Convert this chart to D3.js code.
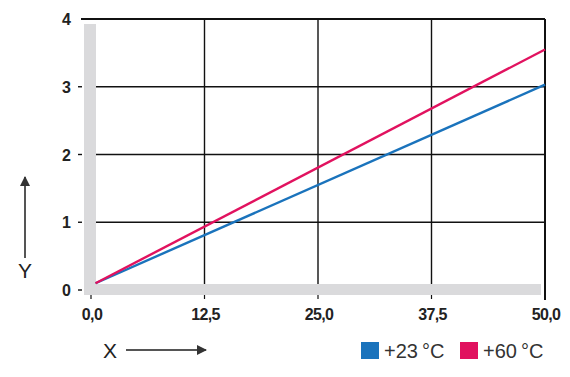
<!DOCTYPE html>
<html>
<head>
<meta charset="utf-8">
<script src="https://cdn.jsdelivr.net/npm/d3@7"></script>
<style>
body { margin: 0; background: #fff; }
text { font-family: "Liberation Sans", Arial, sans-serif; }
</style>
</head>
<body>
<svg width="570" height="377"></svg>
<script>
// data
let xTicks = [0, 12.5, 25, 37.5, 50];
let yTicks = [0, 1, 2, 3, 4];
let seriesNames = ['+23\u2009\u00b0C', '+60\u2009\u00b0C'];
let seriesColors = ['#1a73bc', '#e1125f'];
let xVals = [0.5, 50];
let blueVals = [0.1, 3.03];
let pinkVals = [0.1, 3.55];

let svg = d3.select('svg');
let x = d3.scaleLinear().domain([0, 50]).range([91, 545]);
let y = d3.scaleLinear().domain([0, 4]).range([290, 19]);

// grey axis bands
svg.append('rect').attr('x', 84).attr('y', 24).attr('width', 12).attr('height', 271).style('fill', '#dadadc');
svg.append('rect').attr('x', 84).attr('y', 284).attr('width', 457).attr('height', 11).style('fill', '#dadadc');

// horizontal grid
svg.selectAll('line.hgrid').data(yTicks.filter(d => d > 0)).join('line')
	.attr('class', 'hgrid')
	.attr('x1', d => d == 4 ? 81 : 96).attr('x2', x(50))
	.attr('y1', d => y(d)).attr('y2', d => y(d))
	.style('stroke', '#111').style('stroke-width', d => d == 4 ? 2.2 : 1.4);

// vertical grid
svg.selectAll('line.vgrid').data(xTicks.filter(d => d > 0)).join('line')
	.attr('class', 'vgrid')
	.attr('x1', d => x(d)).attr('x2', d => x(d))
	.attr('y1', y(4)).attr('y2', d => d == 50 ? 300 : 284)
	.style('stroke', '#111').style('stroke-width', d => d == 50 ? 2 : 1.4);
// little ticks below the band
svg.selectAll('line.xtick').data(xTicks.filter(d => d < 50)).join('line')
	.attr('class', 'xtick')
	.attr('x1', d => x(d)).attr('x2', d => x(d))
	.attr('y1', 295).attr('y2', 299)
	.style('stroke', '#111').style('stroke-width', 1.2);
svg.selectAll('line.ytick').data(yTicks.filter(d => d < 4)).join('line')
	.attr('class', 'ytick')
	.attr('x1', 78).attr('x2', 82)
	.attr('y1', d => y(d)).attr('y2', d => y(d))
	.style('stroke', '#111').style('stroke-width', 1.4);

// tick labels
svg.selectAll('text.ylab').data(yTicks).join('text')
	.attr('class', 'ylab')
	.attr('x', 71).attr('y', d => y(d) + 6)
	.attr('text-anchor', 'end')
	.style('font-size', '16px').style('font-weight', 'bold').style('fill', '#222')
	.text(d => d);
svg.selectAll('text.xlab').data(xTicks).join('text')
	.attr('class', 'xlab')
	.attr('x', d => x(d) + 1).attr('y', 320)
	.attr('text-anchor', 'middle')
	.style('font-size', '16px').style('font-weight', 'bold').style('fill', '#222')
	.style('letter-spacing', '-0.6px')
	.text(d => d.toFixed(1).replace('.', ','));

// series lines
let lineFn = d3.line().x(d => x(d[0])).y(d => y(d[1]));
[blueVals, pinkVals].forEach(function(vals, i) {
	svg.append('path')
		.attr('d', lineFn(xVals.map((v, j) => [v, vals[j]])))
		.style('fill', 'none')
		.style('stroke', seriesColors[i])
		.style('stroke-width', 2.4);
});

// axis names with arrows
svg.append('defs').append('marker').attr('id', 'arr')
	.attr('viewBox', '0 0 10 10').attr('refX', 9).attr('refY', 5)
	.attr('markerWidth', 6).attr('markerHeight', 5).attr('orient', 'auto')
	.append('path').attr('d', 'M0,0 L10,5 L0,10 z').style('fill', '#333');
svg.append('line').attr('x1', 126).attr('y1', 350).attr('x2', 206).attr('y2', 350)
	.style('stroke', '#555').style('stroke-width', 2).attr('marker-end', 'url(#arr)');
svg.append('line').attr('x1', 25).attr('y1', 258).attr('x2', 25).attr('y2', 177)
	.style('stroke', '#555').style('stroke-width', 2).attr('marker-end', 'url(#arr)');
svg.append('text').attr('x', 110).attr('y', 358).attr('text-anchor', 'middle')
	.style('font-size', '21px').style('fill', '#222').text('X');
svg.append('text').attr('x', 25).attr('y', 278).attr('text-anchor', 'middle')
	.style('font-size', '21px').style('fill', '#222').text('Y');

// legend
let legX = [361, 460];
let leg = svg.selectAll('g.leg').data(seriesNames).join('g')
	.attr('class', 'leg')
	.attr('transform', (d, i) => 'translate(' + legX[i] + ',342)');
leg.append('rect').attr('width', 18).attr('height', 17).style('fill', (d, i) => seriesColors[i]);
leg.append('text').attr('x', 23).attr('y', 16)
	.style('font-size', '20px').style('fill', '#333').text(d => d);
</script>
</body>
</html>
